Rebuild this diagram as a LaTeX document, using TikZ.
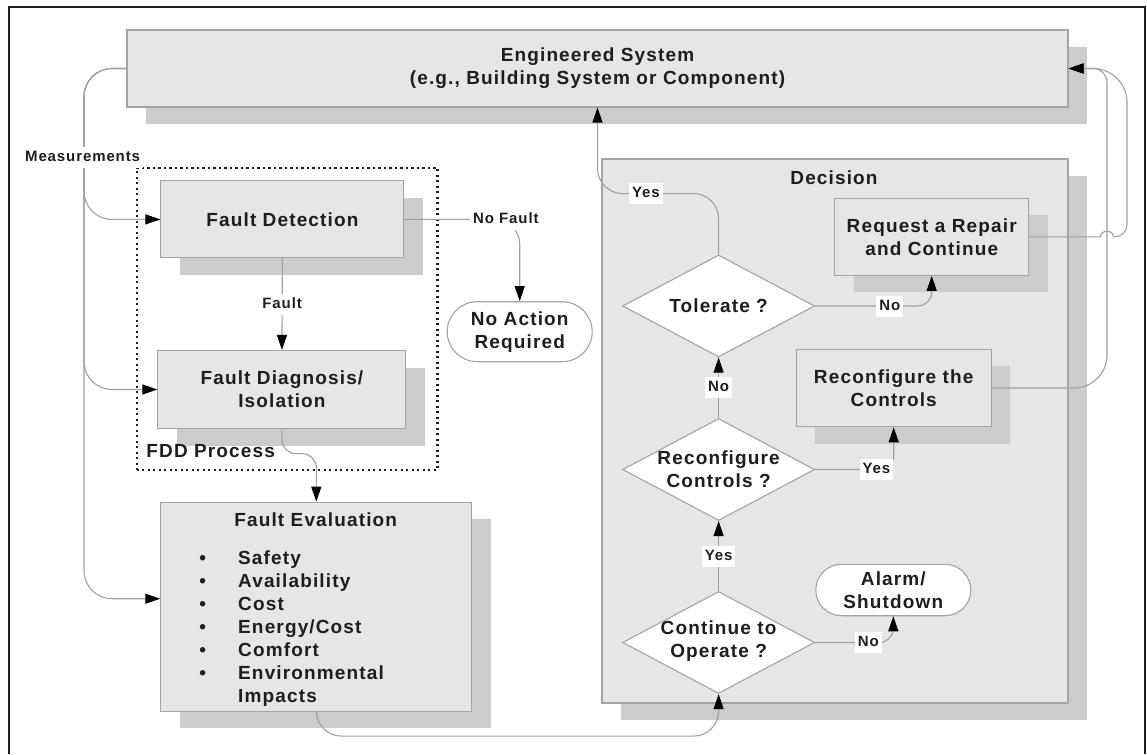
\documentclass[tikz,border=0pt]{standalone}
\usepackage{fontspec}
\setmainfont{Liberation Sans}[LetterSpace=6]
\usetikzlibrary{shapes.geometric,arrows.meta,shadows}

\definecolor{boxfill}{HTML}{E6E6E6}
\definecolor{shade}{HTML}{CCCCCC}
\definecolor{edge}{HTML}{A4A4A4}
\definecolor{wire}{HTML}{A0A0A0}
\definecolor{ink}{HTML}{1E1E1E}

\begin{document}
\begin{tikzpicture}[x=1pt,y=-1pt,
  every node/.style={font=\bfseries\fontsize{19}{23}\selectfont, text=ink,
    align=center, inner sep=0pt},
  block/.style={draw=edge, line width=1.1pt, fill=boxfill,
    drop shadow={shadow xshift=19pt, shadow yshift=-17pt, fill=shade, opacity=1}},
  pill/.style={draw=edge, line width=1.1pt, fill=white},
  decide/.style={diamond, draw=edge, line width=1.1pt, fill=white,
    minimum width=192pt, minimum height=102pt},
  lab/.style={font=\bfseries\fontsize{15}{18}\selectfont, fill=white, sharp corners,
    inner xsep=3pt, inner ysep=3.5pt, text height=11pt, text depth=3pt},
  item/.style={text height=13.6pt, text depth=0pt},
  conn/.style={draw=wire, line width=1.1pt},
  arrow/.style={conn, -{Triangle[length=15pt,width=10pt,color=black]}},
  fdd/.style={draw=ink, line width=2.2pt, dash pattern=on 2.2pt off 3.3pt},
]
\useasboundingbox (0,0) rectangle (1147,754);

% frame
\draw[line width=2pt, ink] (9,754) -- (9,7) -- (1145,7) -- (1145,754);

% main blocks
\node[block, minimum width=941pt, minimum height=77pt] (es) at (597.5,68.5)
  {Engineered System\\(e.g., Building System or Component)};
\node[block, minimum width=243pt, minimum height=77pt] (fd) at (282.4,219.4)
  {Fault Detection};
\node[block, minimum width=248pt, minimum height=78pt] (fdi) at (281.9,389.5)
  {Fault Diagnosis/\\Isolation};
\node[block, minimum width=311pt, minimum height=209pt] (fe) at (316.3,606.7) {};
\node[block, minimum width=466pt, minimum height=544pt] (dec) at (835,431) {};
\node[fdd, minimum width=300.8pt, minimum height=302.3pt] (fddbox) at (287,318.85) {};

% fault evaluation contents
\node[item] (fe-title) at (315.7,520) {Fault Evaluation};
\foreach \t [count=\i] in {Safety,Availability,Cost,Energy/Cost,Comfort,Environmental}{
  \node[item] (fe-b\i) at (202.8,{557.7+23.05*(\i-1)}) {•};
  \node[item, anchor=west] (fe-i\i) at (238,{557.7+23.05*(\i-1)}) {\t};
}
\node[item, anchor=west] (fe-i7) at (238,696) {Impacts};

\node[item, anchor=west] (fdd-t) at (146.2,450.7) {FDD Process};
\node[rounded corners=30pt, pill, minimum width=145pt, minimum height=60pt]
  (nar) at (519.7,331.7) {No Action\\Required};

% decision contents
\node[item] (dec-t) at (834,178) {Decision};
\node[block, minimum width=194pt, minimum height=77pt] (rr) at (931.7,236.8)
  {Request a Repair\\and Continue};
\node[block, minimum width=195pt, minimum height=77.4pt] (rc) at (893.7,388)
  {Reconfigure the\\Controls};
\node[decide] (tol) at (718.6,306) {};
\node[item] (tol-t) at (718.6,306) {Tolerate ?};
\node[decide] (rcq) at (718.6,469.5) {};
\node (rcq-t) at (718.6,469) {Reconfigure\\Controls ?};
\node[decide] (coq) at (718.6,642.5) {};
\node (coq-t) at (718.6,641.5) {Continue to\\Operate ?};
\node[rounded corners=25.7pt, pill, minimum width=155pt, minimum height=51.4pt]
  (alarm) at (893.3,590) {Alarm/\\Shutdown};

% measurements feed
\coordinate (trunk) at (84,68.5);
\draw[arrow, rounded corners=28pt] (es.west) -- (trunk) |- (fd.west);
\draw[arrow, rounded corners=28pt] (es.west) -- (trunk) |- (fdi.west);
\draw[arrow, rounded corners=28pt] (es.west) -- (trunk) |- ([yshift=8pt]fe.west);
\node[lab] (meas) at (82.6,157.5) {Measurements};

% FDD chain
\draw[arrow] (fd.south) -- (fdi.north) node[lab, midway] {Fault};
\draw[arrow, rounded corners=25pt] (fd.east) -| (nar.north)
  node[lab, pos=0.44] {No Fault};
\draw[arrow, rounded corners=14pt] (fdi.south) |- ([yshift=48pt]fe.north) -- (fe.north);
\draw[arrow, rounded corners=25pt] (fe.south) |- ([yshift=-42pt]coq.south) -- (coq.south);

% decision flow
\draw[arrow] (coq.north) -- (rcq.south) node[lab, midway] {Yes};
\draw[arrow] (rcq.north) -- (tol.south) node[lab, midway] {No};
\draw[arrow, rounded corners=14pt] (coq.east) -| (alarm.south) node[lab, pos=0.34] {No};
\draw[arrow, rounded corners=14pt] (rcq.east) -| (rc.south) node[lab, pos=0.39] {Yes};
\draw[arrow, rounded corners=14pt] (tol.east) -| (rr.south) node[lab, pos=0.32] {No};
\draw[arrow, rounded corners=25pt] (tol.north) |- ([yshift=-86pt]es.south)
  node[lab, pos=0.8] {Yes} -- (es.south);

% return paths to the engineered system
\draw[arrow] (rc.east) -- (1074,388) .. controls (1092.2,388) and (1107,373.2) .. (1107,355)
  -- (1107,82.5) .. controls (1107,74.8) and (1100.7,68.5) .. (1093,68.5) -- (es.east);
\draw[arrow] (rr.east) -- (1100.5,236.8) .. controls (1100.5,229.5) and (1113.5,229.5) .. (1113.5,236.8)
  -- (1115,236.8) .. controls (1121.6,236.8) and (1127,231.4) .. (1127,224.8)
  -- (1127,102.5) .. controls (1127,83.7) and (1111.8,68.5) .. (1093,68.5) -- (es.east);
\end{tikzpicture}
\end{document}
